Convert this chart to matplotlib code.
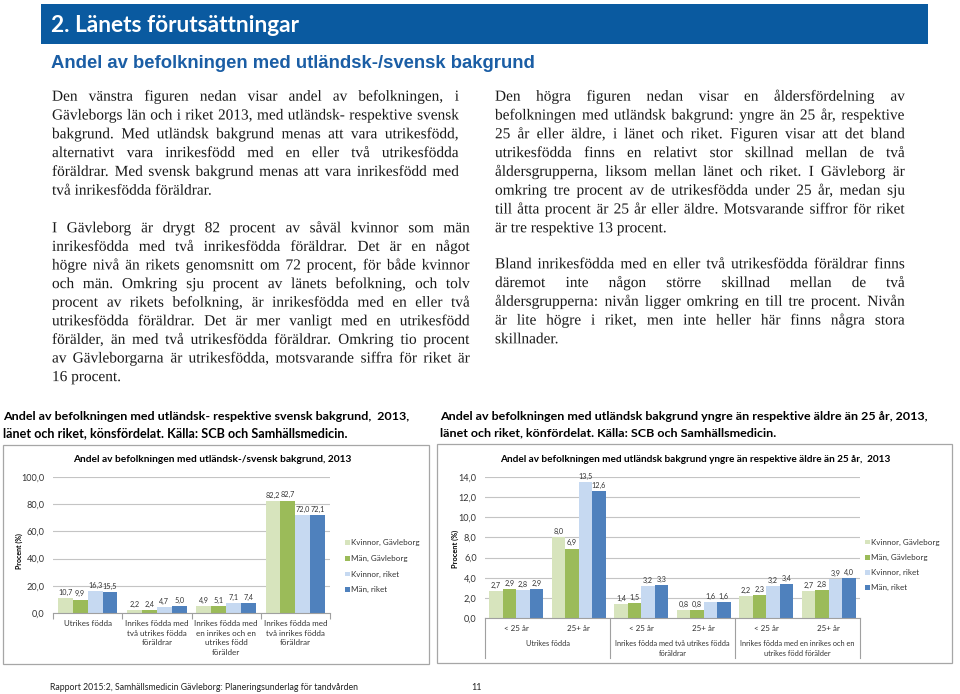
import matplotlib
matplotlib.use('Agg')
import matplotlib.pyplot as plt
import matplotlib.patheffects as pe
from matplotlib.patches import Rectangle
from matplotlib.lines import Line2D
import numpy as np

# ---------------- data ----------------
series_names = ["Kvinnor, Gävleborg", "Män, Gävleborg", "Kvinnor, riket", "Män, riket"]
series_colors = ["#D7E4BD", "#9BBB59", "#C6D9F1", "#4F81BD"]

left_categories = ["Utrikes födda",
                   "Inrikes födda med\ntvå utrikes födda\nföräldrar",
                   "Inrikes födda med\nen inrikes och en\nutrikes född\nförälder",
                   "Inrikes födda med\ntvå inrikes födda\nföräldrar"]
left_kvinnor_gavleborg = [10.7, 2.2, 4.9, 82.2]
left_man_gavleborg = [9.9, 2.4, 5.1, 82.7]
left_kvinnor_riket = [16.3, 4.7, 7.1, 72.0]
left_man_riket = [15.5, 5.0, 7.4, 72.1]
left_yticks = [0, 20, 40, 60, 80, 100]

right_age_labels = ["< 25 år", "25+ år", "< 25 år", "25+ år", "< 25 år", "25+ år"]
right_groups = ["Utrikes födda",
                "Inrikes födda med två utrikes födda\nföräldrar",
                "Inrikes födda med en inrikes och en\nutrikes född förälder"]
right_kvinnor_gavleborg = [2.7, 8.0, 1.4, 0.8, 2.2, 2.7]
right_man_gavleborg = [2.9, 6.9, 1.5, 0.8, 2.3, 2.8]
right_kvinnor_riket = [2.8, 13.5, 3.2, 1.6, 3.2, 3.9]
right_man_riket = [2.9, 12.6, 3.3, 1.6, 3.4, 4.0]
right_yticks = [0, 2, 4, 6, 8, 10, 12, 14]

left_par1 = ["Den vänstra figuren nedan visar andel av befolkningen, i",
             "Gävleborgs län och i riket 2013, med utländsk- respektive svensk",
             "bakgrund. Med utländsk bakgrund menas att vara utrikesfödd,",
             "alternativt vara inrikesfödd med en eller två utrikesfödda",
             "föräldrar. Med svensk bakgrund menas att vara inrikesfödd med",
             "två inrikesfödda föräldrar."]
left_par2 = ["I Gävleborg är drygt 82 procent av såväl kvinnor som män",
             "inrikesfödda med två inrikesfödda föräldrar. Det är en något",
             "högre nivå än rikets genomsnitt om 72 procent, för både kvinnor",
             "och män. Omkring sju procent av länets befolkning, och tolv",
             "procent av rikets befolkning, är inrikesfödda med en eller två",
             "utrikesfödda föräldrar. Det är mer vanligt med en utrikesfödd",
             "förälder, än med två utrikesfödda föräldrar. Omkring tio procent",
             "av Gävleborgarna är utrikesfödda, motsvarande siffra för riket är",
             "16 procent."]
right_par1 = ["Den högra figuren nedan visar en åldersfördelning av",
              "befolkningen med utländsk bakgrund: yngre än 25 år, respektive",
              "25 år eller äldre, i länet och riket. Figuren visar att det bland",
              "utrikesfödda finns en relativt stor skillnad mellan de två",
              "åldersgrupperna, liksom mellan länet och riket. I Gävleborg är",
              "omkring tre procent av de utrikesfödda under 25 år, medan sju",
              "till åtta procent är 25 år eller äldre. Motsvarande siffror för riket",
              "är tre respektive 13 procent."]
right_par2 = ["Bland inrikesfödda med en eller två utrikesfödda föräldrar finns",
              "däremot inte någon större skillnad mellan de två",
              "åldersgrupperna: nivån ligger omkring en till tre procent. Nivån",
              "är lite högre i riket, men inte heller här finns några stora",
              "skillnader."]

# ---------------- helpers ----------------
W, H = 960, 694
fig = plt.figure(figsize=(W / 100, H / 100), dpi=100)
fig.patch.set_facecolor('white')
renderer = fig.canvas.get_renderer()

SANS = 'Lato'
HEAD = 'Liberation Sans'
SERIF = 'Liberation Serif'
CHART = 'Lato'
EXACT = [pe.Normal()]   # draw glyphs at exact sub-pixel baseline


def X(px):
    return px / W


def Y(py):
    return 1 - py / H


def width_of(t):
    return t.get_window_extent(renderer).width


def fit_text(x, y, s, width, fs0=10, use_height=False, **kw):
    t = fig.text(X(x), Y(y), s, fontsize=fs0, **kw)
    bb = t.get_window_extent(renderer)
    w = bb.height if use_height else bb.width
    t.set_fontsize(fs0 * width / w)
    return t


TXT = '#1A1A1A'


def max_fs(pars, fs0, family):
    fs = fs0
    for lines, x0, x1 in pars:
        for line in lines[:-1]:
            t = fig.text(0, 0, line, fontsize=fs0, family=family)
            w = width_of(t)
            t.remove()
            fs = min(fs, fs0 * (x1 - x0) * 0.985 / w)
    return fs


def paragraph(lines, x0, x1, y0, dy, fs, family):
    for i, line in enumerate(lines):
        yb = y0 + i * dy
        words = line.split(' ')
        if i == len(lines) - 1 or len(words) == 1:
            fig.text(X(x0), Y(yb), line, fontsize=fs, family=family,
                     va='baseline', ha='left', color=TXT, path_effects=EXACT)
            continue
        ts = [fig.text(0, 0, w, fontsize=fs, family=family, va='baseline',
                       ha='left', color=TXT, path_effects=EXACT) for w in words]
        ws = [width_of(t) for t in ts]
        gap = (x1 - x0 - sum(ws)) / (len(words) - 1)
        x = x0
        for t, w in zip(ts, ws):
            t.set_position((X(x), Y(yb)))
            x += w + gap


def fmt(v):
    return f"{v:.1f}".replace('.', ',')


# ---------------- page header ----------------
fig.patches.append(Rectangle((X(41), Y(44)), X(928) - X(41), (44 - 4) / H,
                             transform=fig.transFigure, facecolor='#0A5AA0',
                             edgecolor='none'))
fit_text(51, 25, "2. Länets förutsättningar", 248, family=SANS,
         weight='bold', color='white', va='center', ha='left')
fit_text(51, 63, "Andel av befolkningen med utländsk-/svensk bakgrund", 487,
         family=HEAD, weight='bold', color='#1B5EA5', va='center', ha='left')

# ---------------- body text ----------------
fs_body = max_fs([(left_par1, 52, 459), (left_par2, 52, 470),
                  (right_par1, 495, 905), (right_par2, 495, 905)], 11.5, SERIF)
paragraph(left_par1, 52, 459, 100.7, 18.8, fs_body, SERIF)
paragraph(left_par2, 52, 470, 232.3, 18.6, fs_body, SERIF)
paragraph(right_par1, 495, 905, 100.7, 18.8, fs_body, SERIF)
paragraph(right_par2, 495, 905, 268.3, 18.75, fs_body, SERIF)

# ---------------- captions ----------------
fit_text(3, 416, "Andel av befolkningen med utländsk- respektive svensk bakgrund,  2013,",
         407, family=SANS, weight='bold', color='black', va='center', ha='left')
fit_text(3, 433, "länet och riket, könsfördelat. Källa: SCB och Samhällsmedicin.",
         345, family=SANS, weight='bold', color='black', va='center', ha='left')
fit_text(440, 416, "Andel av befolkningen med utländsk bakgrund yngre än respektive äldre än 25 år, 2013,",
         488, family=SANS, weight='bold', color='black', va='center', ha='left')
fit_text(440, 433, "länet och riket, könfördelat. Källa: SCB och Samhällsmedicin.",
         336, family=SANS, weight='bold', color='black', va='center', ha='left')

# ---------------- chart boxes ----------------
for (x0, y0, x1, y1) in [(3, 445, 429, 664), (437, 444, 952, 663)]:
    fig.patches.append(Rectangle((X(x0), Y(y1)), (x1 - x0) / W, (y1 - y0) / H,
                                 transform=fig.transFigure, facecolor='none',
                                 edgecolor='#A6A6A6', lw=0.9))

GRID = '#C4C4C4'
AXC = '#A0A0A0'
LBL = '#333333'


def style_axes(ax, yticks, fsz):
    ax.set_facecolor('none')
    for s in ['left', 'right', 'top']:
        ax.spines[s].set_visible(False)
    ax.spines['bottom'].set_color(AXC)
    ax.spines['bottom'].set_linewidth(0.8)
    ax.set_yticks(yticks)
    ax.set_yticklabels([fmt(v) for v in yticks], fontsize=fsz, family=CHART, color=LBL)
    ax.set_ylim(yticks[0], yticks[-1])
    ax.tick_params(axis='y', length=0, pad=6)
    ax.yaxis.grid(True, color=GRID, lw=0.8)
    ax.set_axisbelow(True)


def draw_bars(ax, data, lab_fs=5.2):
    n = len(data)
    x = np.arange(len(data[0]))
    w = 0.86 / n
    for i, (vals, col) in enumerate(zip(data, series_colors)):
        pos = x + (i - (n - 1) / 2) * w
        ax.bar(pos, vals, width=w, color=col, edgecolor='none', zorder=2)
        for p, v in zip(pos, vals):
            ax.annotate(fmt(v), (p, v), xytext=(0, 1.5), textcoords='offset points',
                        ha='center', va='bottom', fontsize=lab_fs, family=CHART,
                        color=LBL)


# ---------------- left chart ----------------
ax1 = fig.add_axes([X(53), Y(613), (330 - 53) / W, (613 - 477) / H])
style_axes(ax1, left_yticks, 6.6)
draw_bars(ax1, [left_kvinnor_gavleborg, left_man_gavleborg,
                left_kvinnor_riket, left_man_riket])
ax1.set_xlim(-0.5, len(left_categories) - 0.5)
ax1.set_xticks(range(len(left_categories)))
ax1.set_xticklabels(left_categories, fontsize=5.8, family=CHART, linespacing=1.45,
                    color=LBL, va='top')
ax1.tick_params(axis='x', which='major', length=0, pad=5)
ax1.set_xticks(np.arange(-0.5, len(left_categories)), minor=True)
ax1.tick_params(axis='x', which='minor', length=4, color=AXC, width=0.8)

fit_text(212, 459, "Andel av befolkningen med utländsk-/svensk bakgrund, 2013", 279,
         family=CHART, weight='bold', color='black', ha='center', va='center')
fit_text(19, 551, "Procent (%)", 36, use_height=True, family=CHART, weight='bold',
         rotation=90, ha='center', va='center', color='black')

for yy, name, col in zip([542.3, 558.3, 574, 589.3], series_names, series_colors):
    fig.patches.append(Rectangle((X(345), Y(yy + 2.3)), 4.6 / W, 4.6 / H,
                                 transform=fig.transFigure, facecolor=col, edgecolor='none'))
    fig.text(X(351), Y(yy), name, fontsize=5.8, family=CHART, va='center',
             ha='left', color=LBL)

# ---------------- right chart ----------------
ax2 = fig.add_axes([X(485), Y(618), (860 - 485) / W, (618 - 477) / H])
style_axes(ax2, right_yticks, 6.6)
draw_bars(ax2, [right_kvinnor_gavleborg, right_man_gavleborg,
                right_kvinnor_riket, right_man_riket])
ax2.set_xlim(-0.5, len(right_age_labels) - 0.5)
ax2.set_xticks(range(len(right_age_labels)))
ax2.set_xticklabels(right_age_labels, fontsize=5.8, family=CHART, color=LBL)
ax2.tick_params(axis='x', length=0, pad=5)

ax_h = 618 - 477
xt = ax2.get_xaxis_transform()
for g, name in enumerate(right_groups):
    ax2.text(2 * g + 0.5, (618 - 640) / ax_h, name, transform=xt, ha='center',
             va='top', fontsize=5.3, family=CHART, color=LBL, linespacing=1.45)
for b in np.arange(-0.5, len(right_age_labels), 2):
    ax2.add_line(Line2D([b, b], [0, (618 - 658) / ax_h], transform=xt,
                        color=AXC, lw=0.8, clip_on=False))

fit_text(695, 459, "Andel av befolkningen med utländsk bakgrund yngre än respektive äldre än 25 år,  2013",
         394, family=CHART, weight='bold', color='black', ha='center', va='center')
fit_text(455, 549, "Procent (%)", 38, use_height=True, family=CHART, weight='bold',
         rotation=90, ha='center', va='center', color='black')

for yy, name, col in zip([542, 557.7, 572.7, 587.7], series_names, series_colors):
    fig.patches.append(Rectangle((X(865), Y(yy + 2.3)), 4.6 / W, 4.6 / H,
                                 transform=fig.transFigure, facecolor=col, edgecolor='none'))
    fig.text(X(871), Y(yy), name, fontsize=5.8, family=CHART, va='center',
             ha='left', color=LBL)

# ---------------- footer ----------------
fit_text(50, 687, "Rapport 2015:2, Samhällsmedicin Gävleborg: Planeringsunderlag för tandvården",
         308, family=SANS, color='#222222', va='center', ha='left')
fig.text(X(477), Y(687), "11", fontsize=6.5, family=SANS, color='#222222',
         va='center', ha='center')

fig.savefig('out.png', dpi=100, facecolor='white')
